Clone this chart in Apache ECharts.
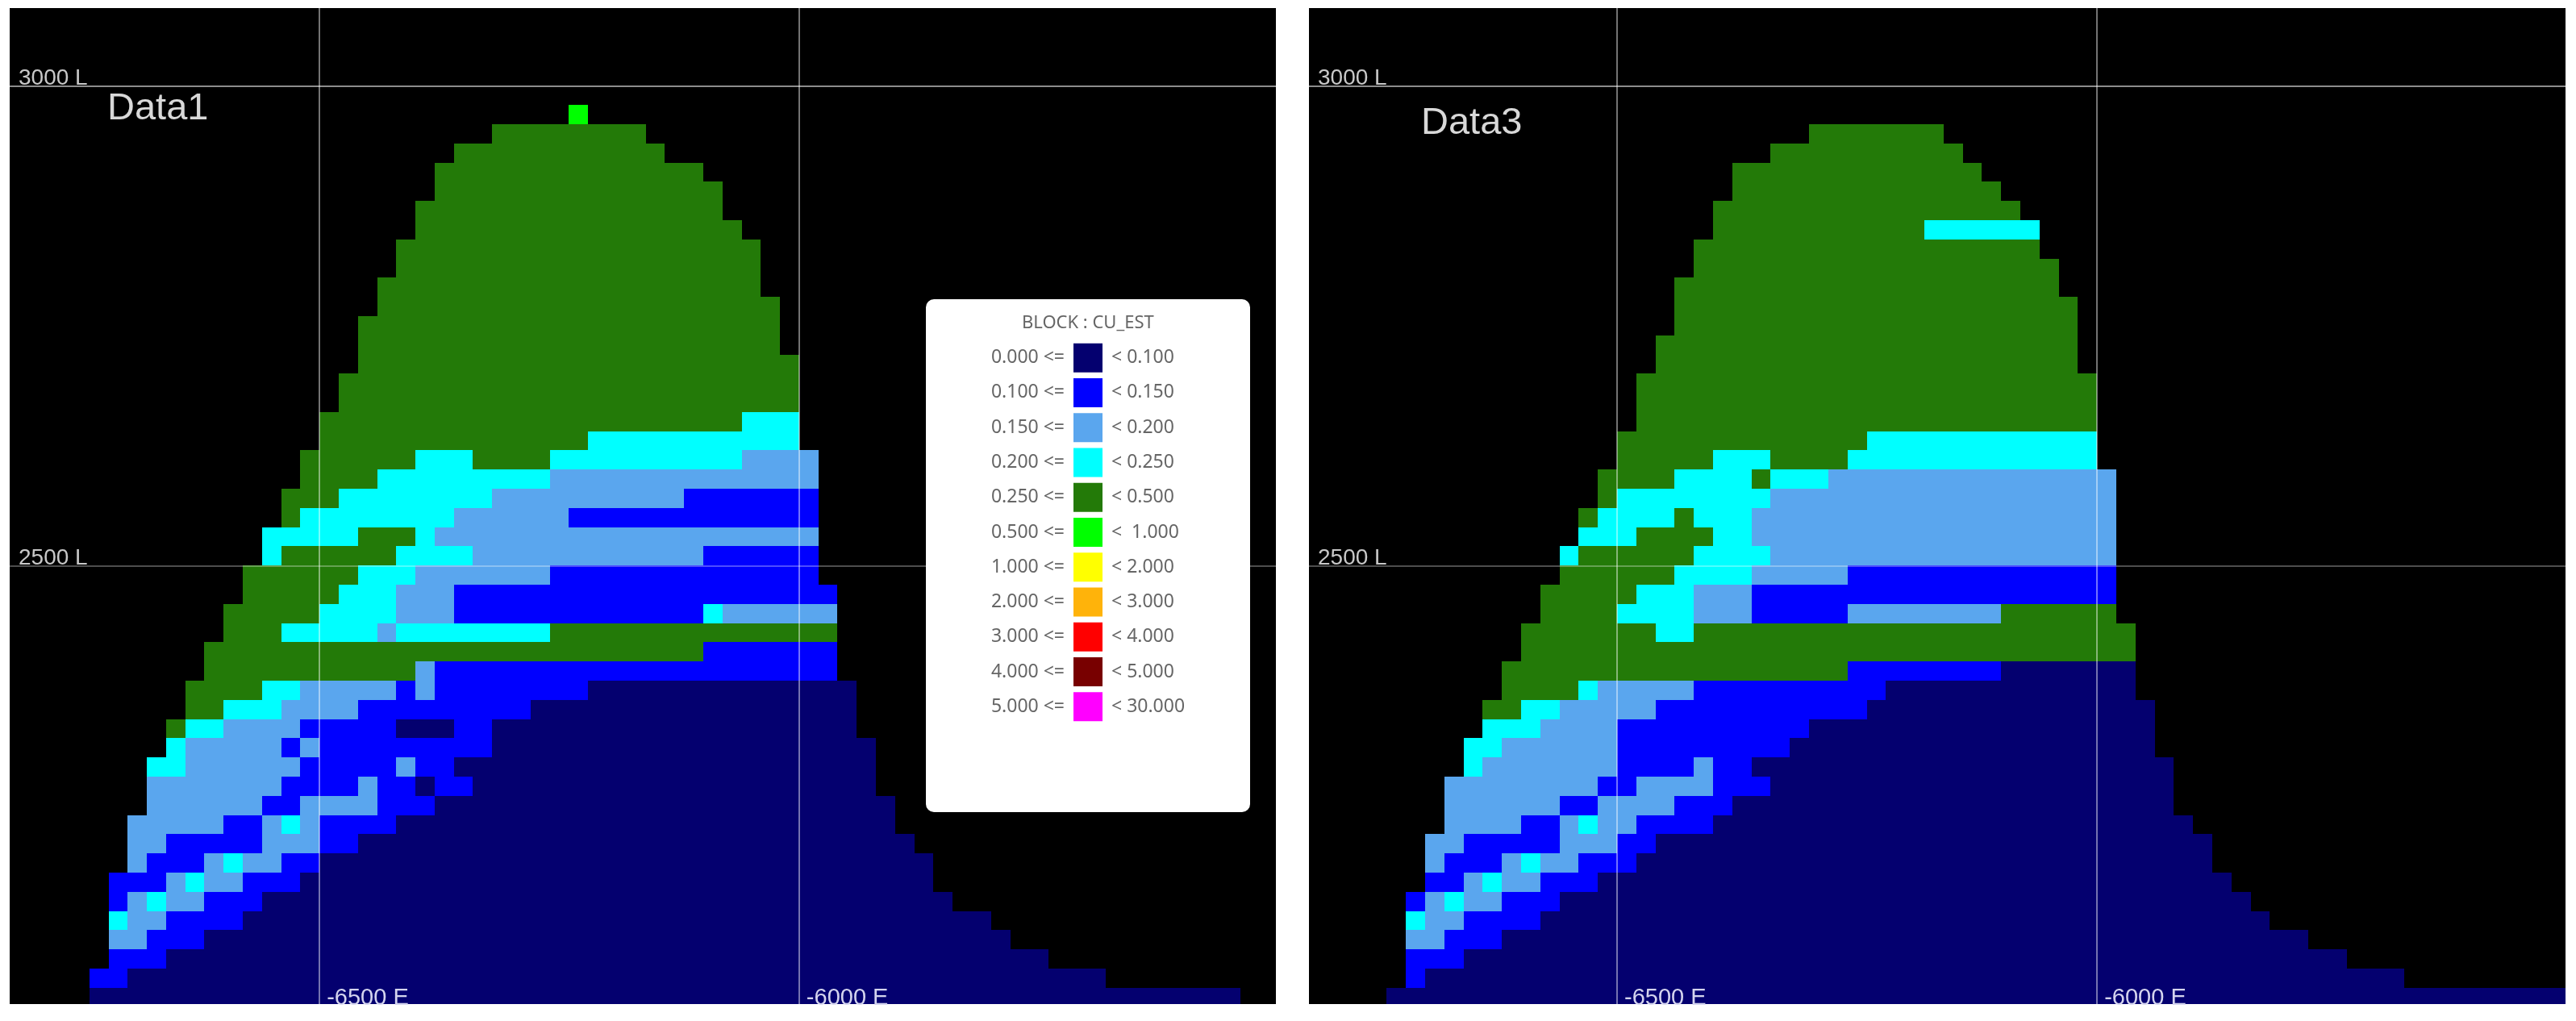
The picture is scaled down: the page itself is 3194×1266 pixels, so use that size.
<!DOCTYPE html>
<html>
<head>
<meta charset="utf-8">
<title>BLOCK : CU_EST</title>
<script src="https://cdn.jsdelivr.net/npm/echarts@6/dist/echarts.min.js"></script>
<style>
html, body { margin: 0; padding: 0; background: #fff; }
#main { width: 3194px; height: 1266px; }
</style>
</head>
<body>
<div id="main"></div>
<script>
// legend classes, lowest grade first
var gradeFrom = ['0.000', '0.100', '0.150', '0.200', '0.250', '0.500', '1.000', '2.000', '3.000', '4.000', '5.000'];
var gradeTo = ['0.100', '0.150', '0.200', '0.250', '0.500', ' 1.000', '2.000', '3.000', '4.000', '5.000', '30.000'];
var gradeColors = ['#04006f', '#0000ff', '#5aa6ee', '#00ffff', '#237a08', '#00ff00', '#ffff00', '#ffb30a', '#ff0000', '#780000', '#ff00ff'];

var eastTicks = [-6500, -6000];
var levelTicks = [3000, 2500];

// each row is one 20 L bench going down from 3000 L
// [first column, class, next column, class, next column, ...], a column is 20 E starting at -6500 E
var data1Rows = [
    [],
    [13,5,14],
    [9,4,17],
    [7,4,18],
    [6,4,20],
    [6,4,21],
    [5,4,21],
    [5,4,22],
    [4,4,23],
    [4,4,23],
    [3,4,23],
    [3,4,24],
    [2,4,24],
    [2,4,24],
    [2,4,25],
    [1,4,25],
    [1,4,25],
    [0,4,22,3,25],
    [0,4,14,3,25],
    [-1,4,5,3,8,4,12,3,22,2,26],
    [-1,4,3,3,12,2,26],
    [-2,4,1,3,9,2,19,1,26],
    [-2,4,-1,3,7,2,13,1,26],
    [-3,3,2,4,5,3,6,2,26],
    [-3,3,-2,4,4,3,8,2,20,1,26],
    [-4,4,2,3,5,2,12,1,26],
    [-4,4,1,3,4,2,7,1,27],
    [-5,4,0,3,4,2,7,1,20,3,21,2,27],
    [-5,4,-2,3,3,2,4,3,12,4,27],
    [-6,4,20,1,27],
    [-6,4,5,2,6,1,27],
    [-7,4,-3,3,-1,2,4,1,5,2,6,1,14,0,28],
    [-7,4,-5,3,-2,2,2,1,11,0,28],
    [-8,4,-7,3,-5,2,-1,1,4,0,7,1,9,0,28],
    [-8,3,-7,2,-2,1,-1,2,0,1,9,0,29],
    [-9,3,-7,2,-1,1,4,2,5,1,7,0,29],
    [-9,2,-2,1,2,2,3,1,5,0,6,1,8,0,29],
    [-9,2,-3,1,-1,2,3,1,6,0,30],
    [-10,2,-5,1,-3,2,-2,3,-1,2,0,1,4,0,30],
    [-10,2,-8,1,-3,2,0,1,2,0,31],
    [-10,2,-9,1,-6,2,-5,3,-4,2,-2,1,0,0,32],
    [-11,1,-8,2,-7,3,-6,2,-4,1,-1,0,32],
    [-11,1,-10,2,-9,3,-8,2,-6,1,-3,0,33],
    [-11,3,-10,2,-8,1,-4,0,35],
    [-11,2,-9,1,-6,0,36],
    [-11,1,-8,0,38],
    [-12,1,-10,0,41],
    [-12,0,48]
];

var data3Rows = [
    [],
    [],
    [10,4,17],
    [8,4,18],
    [6,4,19],
    [6,4,20],
    [5,4,21],
    [5,4,16,3,22],
    [4,4,22],
    [4,4,23],
    [3,4,23],
    [3,4,24],
    [3,4,24],
    [2,4,24],
    [2,4,24],
    [1,4,25],
    [1,4,25],
    [1,4,25],
    [0,4,13,3,25],
    [0,4,5,3,8,4,12,3,25],
    [-1,4,3,3,7,4,8,3,11,2,26],
    [-1,4,0,3,8,2,26],
    [-2,4,-1,3,3,4,4,3,7,2,26],
    [-2,3,1,4,5,3,7,2,26],
    [-3,3,-2,4,4,3,8,2,26],
    [-3,4,3,3,7,2,12,1,26],
    [-4,4,1,3,4,2,7,1,26],
    [-4,4,0,3,4,2,7,1,12,2,20,4,26],
    [-5,4,2,3,4,4,27],
    [-5,4,27],
    [-6,4,12,1,20,0,27],
    [-6,4,-2,3,-1,2,4,1,14,0,27],
    [-7,4,-5,3,-3,2,2,1,13,0,28],
    [-7,3,-4,2,0,1,10,0,28],
    [-8,3,-6,2,0,1,9,0,28],
    [-8,3,-7,2,0,1,4,2,5,1,7,0,29],
    [-9,2,-1,1,1,2,5,1,8,0,29],
    [-9,2,-3,1,-1,2,3,1,6,0,29],
    [-9,2,-5,1,-3,2,-2,3,-1,2,1,1,5,0,30],
    [-10,2,-8,1,-3,2,0,1,2,0,31],
    [-10,2,-9,1,-6,2,-5,3,-4,2,-2,1,1,0,31],
    [-10,1,-8,2,-7,3,-6,2,-4,1,-1,0,32],
    [-11,1,-10,2,-9,3,-8,2,-6,1,-3,0,33],
    [-11,3,-10,2,-8,1,-4,0,34],
    [-11,2,-9,1,-6,0,36],
    [-11,1,-8,0,38],
    [-11,1,-10,0,41],
    [-12,0,51]
];

var blockSize = 20;
var labelFont = '"Liberation Sans", Arial, sans-serif';
var legendFont = '"Noto Sans", "Open Sans", sans-serif';

// rows -> [east, top level, class]
function toBlocks(rows) {
    var blocks = [];
    rows.forEach(function (row, r) {
        for (var i = 0; i + 2 < row.length; i += 2) {
            for (var c = row[i]; c < row[i + 2]; c++) {
                blocks.push([-6500 + c * blockSize, 3000 - r * blockSize, row[i + 1]]);
            }
        }
    });
    return blocks;
}

function drawBlock(params, api) {
    var a = api.coord([api.value(0), api.value(1)]);
    var b = api.coord([api.value(0) + blockSize, api.value(1) - blockSize]);
    var x = Math.round(a[0]), y = Math.round(a[1]);
    return {
        type: 'rect',
        shape: { x: x, y: y, width: Math.round(b[0]) - x, height: Math.round(b[1]) - y },
        style: { fill: gradeColors[api.value(2)] }
    };
}

function blockSeries(index, rows) {
    return {
        type: 'custom',
        xAxisIndex: index,
        yAxisIndex: index,
        clip: true,
        silent: true,
        renderItem: drawBlock,
        data: toBlocks(rows),
        markLine: {
            silent: true,
            symbol: 'none',
            label: { show: false },
            data: [
                { xAxis: eastTicks[0], lineStyle: { color: 'rgba(255,255,255,0.45)', width: 2, type: 'solid' } },
                { xAxis: eastTicks[1], lineStyle: { color: 'rgba(255,255,255,0.45)', width: 2, type: 'solid' } },
                { yAxis: levelTicks[0], lineStyle: { color: 'rgba(255,255,255,0.55)', width: 2, type: 'solid' } },
                { yAxis: levelTicks[1], lineStyle: { color: 'rgba(255,255,255,0.3)', width: 2, type: 'solid' } }
            ]
        }
    };
}

function eastAxis(index, min, max) {
    return {
        type: 'value',
        gridIndex: index,
        min: min,
        max: max,
        z: 5,
        axisLine: { show: false },
        axisTick: { show: false },
        splitLine: { show: false },
        axisLabel: {
            customValues: eastTicks,
            inside: true,
            margin: 0,
            align: 'left',
            padding: [0, 0, 0, 9],
            color: '#d4d4ee',
            fontFamily: labelFont,
            fontSize: 29,
            lineHeight: 15,
            formatter: function (v) { return v + ' E'; }
        }
    };
}

function levelAxis(index) {
    return {
        type: 'value',
        gridIndex: index,
        min: 2043,
        max: 3081,
        z: 5,
        axisLine: { show: false },
        axisTick: { show: false },
        splitLine: { show: false },
        axisLabel: {
            customValues: levelTicks,
            inside: true,
            margin: 11,
            align: 'left',
            verticalAlign: 'bottom',
            color: '#c8c8c8',
            fontFamily: labelFont,
            fontSize: 28,
            lineHeight: 18,
            formatter: function (v) { return v + ' L'; }
        }
    };
}

function legendAxis(position, labels, prefix, suffix, margin) {
    return {
        type: 'category',
        gridIndex: 2,
        position: position,
        inverse: true,
        data: labels,
        z: 12,
        axisLine: { show: false },
        axisTick: { show: false },
        splitLine: { show: false },
        axisLabel: {
            interval: 0,
            margin: margin,
            color: '#666',
            fontFamily: legendFont,
            fontSize: 23,
            formatter: function (v) { return prefix + v + suffix; }
        }
    };
}

var chart = echarts.init(document.getElementById('main'));
chart.setOption({
    animation: false,
    backgroundColor: '#fff',
    title: [
        { text: 'Data1', left: 133, top: 112, padding: 0, textStyle: { color: '#d8d8d8', fontFamily: labelFont, fontSize: 47, fontWeight: 'normal' } },
        { text: 'Data3', left: 1762, top: 130, padding: 0, textStyle: { color: '#d8d8d8', fontFamily: labelFont, fontSize: 47, fontWeight: 'normal' } },
        { text: 'BLOCK : CU_EST', left: 1267, top: 390, padding: 0, z: 12, textStyle: { color: '#666', fontFamily: legendFont, fontSize: 22, fontWeight: 'normal' } }
    ],
    graphic: [{
        type: 'rect',
        z: 10,
        shape: { x: 1148, y: 371, width: 402, height: 636, r: 10 },
        style: { fill: '#fff' }
    }],
    grid: [
        { left: 12, top: 10, width: 1570, height: 1235, show: true, backgroundColor: '#000', borderWidth: 0 },
        { left: 1623, top: 10, width: 1558, height: 1235, show: true, backgroundColor: '#000', borderWidth: 0 },
        { left: 1331, top: 422, width: 36, height: 476 }
    ],
    xAxis: [
        eastAxis(0, -6823, -5503),
        eastAxis(1, -6821, -5512),
        { type: 'value', gridIndex: 2, min: 0, max: 1, show: false }
    ],
    yAxis: [
        levelAxis(0),
        levelAxis(1),
        legendAxis('left', gradeFrom, '', ' <=', 11),
        legendAxis('right', gradeTo, '< ', '', 11)
    ],
    series: [
        blockSeries(0, data1Rows),
        blockSeries(1, data3Rows),
        {
            type: 'bar',
            xAxisIndex: 2,
            yAxisIndex: 2,
            z: 12,
            silent: true,
            barWidth: 36,
            data: gradeColors.map(function (c) {
                return { value: 1, itemStyle: { color: c } };
            })
        }
    ]
});
</script>
</body>
</html>
